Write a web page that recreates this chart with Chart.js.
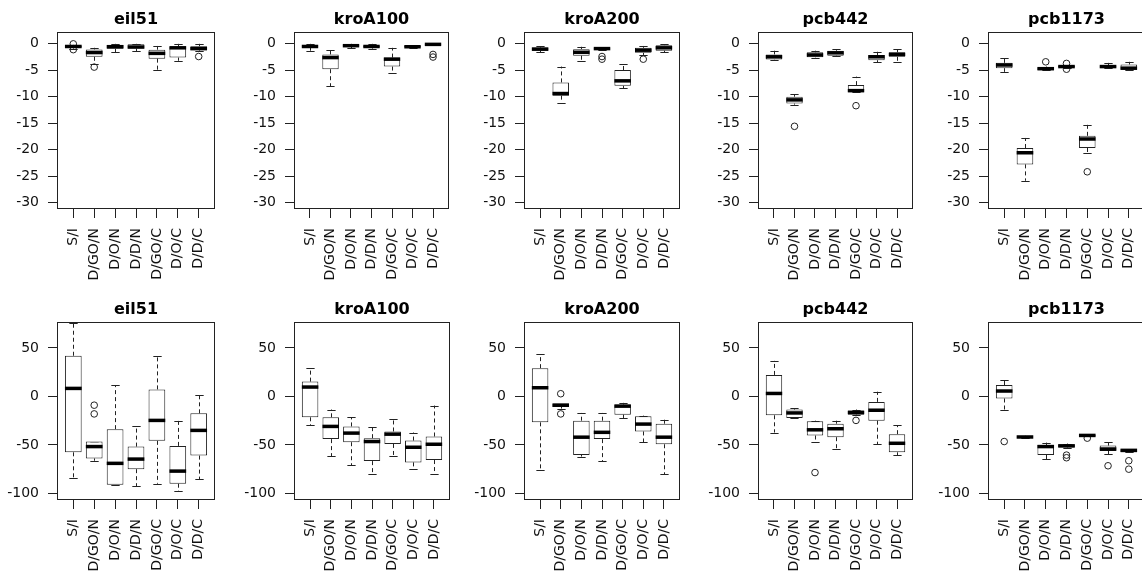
<!DOCTYPE html>
<html>
<head>
<meta charset="utf-8">
<script src="https://cdn.jsdelivr.net/npm/chart.js@4.4.0/dist/chart.umd.min.js"></script>
<style>
  html, body { margin: 0; padding: 0; background: #fff; overflow: hidden; width: 1142px; height: 572px; }
</style>
</head>
<body>
<script>
// categories, panels and ticks
const categories = ["S/I", "D/GO/N", "D/O/N", "D/D/N", "D/GO/C", "D/O/C", "D/D/C"];
const instances = ["eil51", "kroA100", "kroA200", "pcb442", "pcb1173"];
const topTicks = [0, -5, -10, -15, -20, -25, -30];
const bottomTicks = [50, 0, -50, -100];
const topRange = [-31.24, 2.24];
const bottomRange = [-106.8, 76.8];

// one row per category: [lower whisker, q1, median, q3, upper whisker]
// outliers: [category index, value]
const eil51Top = [[-0.9, -0.7, -0.5, -0.35, -0.2], [-3.8, -2.45, -1.65, -1.05, -0.75], [-1.6, -0.95, -0.55, -0.15, 0], [-1.4, -0.9, -0.6, -0.1, 0], [-4.95, -2.8, -1.8, -1.1, -0.4], [-3.2, -2.6, -0.75, -0.55, 0], [-1.3, -1.2, -0.9, -0.45, 0]];
const eil51TopOut = [[0, 0], [0, -1.1], [1, -4.4], [6, -2.4]];
const kroA100Top = [[-1.3, -0.7, -0.5, -0.25, 0], [-8.0, -4.8, -2.6, -2.0, -1.1], [-0.8, -0.5, -0.35, -0.2, 0], [-0.9, -0.7, -0.5, -0.3, 0], [-5.5, -4.3, -2.9, -2.6, -0.75], [-0.8, -0.7, -0.55, -0.4, -0.3], [-0.25, -0.2, -0.1, -0.05, 0]];
const kroA100TopOut = [[6, -2.0], [6, -2.5]];
const kroA200Top = [[-1.6, -1.3, -1.0, -0.7, -0.5], [-11.1, -9.8, -9.4, -7.3, -4.3], [-3.3, -2.25, -1.6, -1.0, -0.55], [-1.2, -1.1, -0.9, -0.8, -0.6], [-8.4, -7.95, -7.0, -4.95, -3.9], [-2.1, -1.7, -1.2, -0.75, -0.4], [-1.6, -1.3, -0.75, -0.25, -0.1]];
const kroA200TopOut = [[3, -2.4], [3, -2.9], [5, -2.9]];
const pcb442Top = [[-3.0, -2.95, -2.45, -2.0, -1.3], [-11.5, -11.3, -10.6, -10.0, -9.5], [-2.6, -2.55, -2.1, -1.6, -1.3], [-2.3, -2.25, -1.7, -1.3, -1.0], [-9.15, -9.15, -8.85, -7.8, -6.2], [-3.5, -3.1, -2.45, -2.1, -1.5], [-3.4, -2.45, -2.0, -1.6, -1.0]];
const pcb442TopOut = [[1, -15.6], [4, -11.7]];
const pcb1173Top = [[-5.3, -4.6, -4.0, -3.6, -2.6], [-25.9, -22.8, -20.6, -19.7, -17.8], [-5.0, -4.95, -4.7, -4.45, -4.3], [-4.5, -4.45, -4.3, -4.2, -4.1], [-20.6, -19.7, -18.0, -17.4, -15.3], [-4.6, -4.5, -4.3, -4.1, -3.6], [-4.9, -4.9, -4.6, -3.9, -3.4]];
const pcb1173TopOut = [[2, -3.4], [3, -3.7], [3, -4.8], [4, -24.2]];

const eil51Bottom = [[-83.7, -57.6, 8.3, 42, 76], [-66.3, -63.9, -51.7, -46.5, -46.5], [-91, -91, -69, -33.7, 11.8], [-92.4, -75, -64.6, -51.7, -30.2], [-90, -45.8, -24.7, 7.3, 42], [-97.6, -90, -77, -51, -25], [-85.4, -61, -35, -17.4, 1.7]];
const eil51BottomOut = [[1, -9], [1, -18]];
const kroA100Bottom = [[-29.9, -21.5, 9.7, 15.3, 29.2], [-61.5, -44, -30.9, -21.5, -13.5], [-70.8, -47.2, -37.8, -30.9, -21.5], [-79.5, -66.7, -46.5, -43, -31.6], [-61.5, -49, -38.9, -36.1, -22.9], [-75, -68, -52.4, -45.5, -37.2], [-79.5, -65.6, -49.3, -41.3, -9.4]];
const kroA100BottomOut = [];
const kroA200Bottom = [[-76, -26.7, 9.0, 29.2, 43.75], [-12.5, -10.8, -9, -7.3, -7.3], [-62, -60.4, -42, -25, -17], [-66.7, -44, -37, -25, -17], [-22.2, -18.75, -10, -8.3, -6.6], [-47.2, -36.1, -28.5, -20.5, -19.8], [-80.2, -49.3, -42, -28.1, -24]];
const kroA200BottomOut = [[1, 2.8], [1, -18]];
const pcb442Bottom = [[-37.2, -19.4, 3.1, 22.2, 36.8], [-22.5, -22.2, -17, -13.5, -12.2], [-46.5, -40.3, -34.4, -25.7, -25], [-54.2, -42, -33.3, -28.1, -25], [-19.5, -18.75, -16.5, -14.6, -13.5], [-49.3, -25, -14.2, -5.6, 4.9], [-60.4, -57.6, -48.3, -38.9, -29.9]];
const pcb442BottomOut = [[2, -78.5], [4, -24.7]];
const pcb1173Bottom = [[-14.2, -2.1, 5.6, 11.8, 16.7], [-42.7, -42.4, -41.8, -41.3, -40.6], [-64.6, -60.4, -51.7, -50, -47.6], [-52.8, -52.4, -51, -49.3, -48.6], [-41.3, -41.3, -40.2, -39.6, -39.2], [-59.4, -56.2, -54.2, -50.7, -47.2], [-57.6, -57.6, -55.6, -54.5, -54.2]];
const pcb1173BottomOut = [[0, -46.5], [3, -60.5], [3, -63.2], [4, -43], [5, -71.5], [6, -66.3], [6, -75]];

const topStats = [eil51Top, kroA100Top, kroA200Top, pcb442Top, pcb1173Top];
const topOut = [eil51TopOut, kroA100TopOut, kroA200TopOut, pcb442TopOut, pcb1173TopOut];
const bottomStats = [eil51Bottom, kroA100Bottom, kroA200Bottom, pcb442Bottom, pcb1173Bottom];
const bottomOut = [eil51BottomOut, kroA100BottomOut, kroA200BottomOut, pcb442BottomOut, pcb1173BottomOut];

// layout of the plot boxes
const colLeft = [57, 294, 524, 758, 988];
const colWidth = [159, 156, 157, 156, 158];
const rowTop = [32, 322];
const rowHeight = [177, 178];
const axisW = 57, titleH = 24, axisH = 80, padR = 4;
const ink = "#222";

Chart.defaults.font.family = "'DejaVu Sans', sans-serif";
Chart.defaults.color = "#111";

// whiskers, staples and medians (R boxplot style)
const boxWhiskers = {
  id: "boxWhiskers",
  beforeDatasetsDraw(chart, args, opts) {
    const { ctx, scales: { x, y } } = chart;
    ctx.save();
    ctx.strokeStyle = ink;
    ctx.lineWidth = 1;
    opts.stats.forEach((s, i) => {
      const cx = Math.round(x.getPixelForValue(i)) + 0.5;
      const half = (x.getPixelForValue(i + 0.2) - x.getPixelForValue(i));
      ctx.setLineDash([4, 3]);
      ctx.beginPath();
      ctx.moveTo(cx, y.getPixelForValue(s[3]));
      ctx.lineTo(cx, y.getPixelForValue(s[4]));
      ctx.moveTo(cx, y.getPixelForValue(s[1]));
      ctx.lineTo(cx, y.getPixelForValue(s[0]));
      ctx.stroke();
      ctx.setLineDash([]);
      ctx.beginPath();
      [s[0], s[4]].forEach(v => {
        const py = Math.round(y.getPixelForValue(v)) + 0.5;
        ctx.moveTo(cx - half, py);
        ctx.lineTo(cx + half, py);
      });
      ctx.stroke();
    });
    ctx.restore();
  },
  afterDatasetsDraw(chart, args, opts) {
    const { ctx, scales: { y } } = chart;
    const bars = chart.getDatasetMeta(0).data;
    ctx.save();
    ctx.strokeStyle = "#000";
    ctx.lineWidth = 3.5;
    ctx.lineCap = "butt";
    opts.stats.forEach((s, i) => {
      const bar = bars[i];
      const py = y.getPixelForValue(s[2]);
      ctx.beginPath();
      ctx.moveTo(bar.x - bar.width / 2, py);
      ctx.lineTo(bar.x + bar.width / 2, py);
      ctx.stroke();
    });
    ctx.restore();
  }
};

// box around the plot region
const frame = {
  id: "frame",
  afterDraw(chart) {
    const { ctx, chartArea: a } = chart;
    ctx.save();
    ctx.strokeStyle = ink;
    ctx.lineWidth = 1;
    ctx.strokeRect(Math.round(a.left) + 0.5, Math.round(a.top) + 0.5, Math.round(a.right - a.left) - 1, Math.round(a.bottom - a.top) - 1);
    ctx.restore();
  }
};

const makePanel = (row, col, title, stats, outliers, ticks, range) => {
  const canvas = document.createElement("canvas");
  const w = axisW + colWidth[col] + padR;
  const h = titleH + rowHeight[row] + axisH;
  canvas.width = w;
  canvas.height = h;
  canvas.style.cssText = `position:absolute;left:${colLeft[col] - axisW}px;top:${rowTop[row] - titleH}px;width:${w}px;height:${h}px;`;
  document.body.appendChild(canvas);

  new Chart(canvas, {
    type: "bar",
    data: {
      datasets: [
        {
          type: "bar",
          data: stats.map((s, i) => ({ x: i, y: [s[1], s[3]] })),
          backgroundColor: "#fff",
          borderColor: ink,
          borderWidth: 1,
          borderSkipped: false,
          barPercentage: 0.8,
          categoryPercentage: 1,
          order: 2,
        },
        {
          type: "scatter",
          data: outliers.map(o => ({ x: o[0], y: o[1] })),
          pointStyle: "circle",
          pointRadius: 3.3,
          pointBorderWidth: 1,
          pointBorderColor: ink,
          pointBackgroundColor: "rgba(0,0,0,0)",
          order: 1,
        },
      ],
    },
    options: {
      responsive: false,
      animation: false,
      events: [],
      layout: { padding: { right: padR } },
      plugins: {
        legend: { display: false },
        tooltip: { enabled: false },
        title: {
          display: true,
          text: title,
          fullSize: false,
          color: "#000",
          font: { size: 16, weight: "bold", lineHeight: 1.125 },
          padding: { top: 3, bottom: 3 },
        },
        boxWhiskers: { stats },
      },
      scales: {
        x: {
          type: "linear",
          min: -0.78,
          max: 6.78,
          offset: false,
          afterBuildTicks: s => { s.ticks = categories.map((c, i) => ({ value: i })); },
          afterFit: s => { s.height = axisH; s.paddingLeft = 0; s.paddingRight = 0; },
          border: { display: false },
          grid: { offset: false, drawOnChartArea: false, tickLength: 9, color: ink },
          ticks: {
            autoSkip: false,
            minRotation: 90,
            maxRotation: 90,
            padding: 10,
            font: { size: 14 },
            callback: v => categories[Math.round(v)],
          },
        },
        y: {
          min: range[0],
          max: range[1],
          afterBuildTicks: s => { s.ticks = ticks.map(v => ({ value: v })); },
          afterFit: s => { s.width = axisW; s.paddingTop = 0; s.paddingBottom = 0; },
          border: { display: false },
          grid: { drawOnChartArea: false, tickLength: 9, color: ink },
          ticks: { padding: 9, font: { size: 14 } },
        },
      },
    },
    plugins: [boxWhiskers, frame],
  });
};

instances.forEach((name, col) => {
  makePanel(0, col, name, topStats[col], topOut[col], topTicks, topRange);
  makePanel(1, col, name, bottomStats[col], bottomOut[col], bottomTicks, bottomRange);
});
</script>
</body>
</html>
